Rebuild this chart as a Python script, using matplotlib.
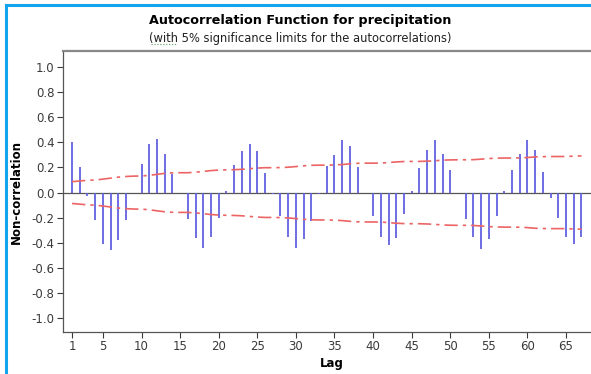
import matplotlib.pyplot as plt
from matplotlib.lines import Line2D

# autocorrelations for lags 1..67
lags = list(range(1, 68))
acf = [0.40, 0.205, -0.03, -0.22, -0.41, -0.46, -0.38, -0.22, 0.0, 0.225,
       0.39, 0.425, 0.31, 0.145, 0.0, -0.21, -0.36, -0.44, -0.35, -0.20,
       0.01, 0.22, 0.33, 0.39, 0.33, 0.155, -0.01, -0.19, -0.35, -0.44,
       -0.37, -0.23, -0.01, 0.21, 0.30, 0.42, 0.37, 0.20, 0.0, -0.19,
       -0.35, -0.42, -0.36, -0.17, 0.01, 0.195, 0.34, 0.42, 0.31, 0.18,
       0.0, -0.21, -0.35, -0.45, -0.37, -0.19, 0.01, 0.18, 0.31, 0.42,
       0.34, 0.16, -0.045, -0.20, -0.35, -0.41, -0.35]

# 5% significance limit for each lag (symmetric around zero)
limite = [0.087, 0.092, 0.098, 0.100, 0.107, 0.115, 0.123, 0.128, 0.131, 0.132,
          0.137, 0.145, 0.153, 0.157, 0.158, 0.158, 0.162, 0.168, 0.175, 0.179,
          0.181, 0.182, 0.185, 0.190, 0.195, 0.198, 0.198, 0.199, 0.202, 0.207,
          0.213, 0.217, 0.218, 0.218, 0.220, 0.223, 0.229, 0.233, 0.234, 0.234,
          0.235, 0.239, 0.244, 0.247, 0.248, 0.248, 0.250, 0.253, 0.258, 0.260,
          0.261, 0.261, 0.262, 0.266, 0.271, 0.274, 0.275, 0.275, 0.276, 0.279,
          0.284, 0.286, 0.287, 0.287, 0.287, 0.290, 0.292]

x_ticks = [1, 5, 10, 15, 20, 25, 30, 35, 40, 45, 50, 55, 60, 65]
y_ticks = [-1.0, -0.8, -0.6, -0.4, -0.2, 0.0, 0.2, 0.4, 0.6, 0.8, 1.0]

fig = plt.figure(figsize=(5.91, 3.74), dpi=100)
ax = fig.add_axes([63 / 591, 42 / 374, 537 / 591, 281 / 374])

ax.axhline(0, color='#555555', lw=0.9, zorder=1)
ax.vlines(lags, 0, acf, color='#6262e2', lw=1.3, zorder=2)
ax.plot(lags, limite, color='#ec6464', lw=1.2, ls=(0, (8, 3, 2, 3)), zorder=3)
ax.plot(lags, [-v for v in limite], color='#ec6464', lw=1.2, ls=(0, (8, 3, 2, 3)), zorder=3)

ax.set_xlim(-0.17, 69.4)
ax.set_ylim(-1.11, 1.127)
ax.set_xticks(x_ticks)
ax.set_yticks(y_ticks)
ax.set_yticklabels([f'{v:.1f}' for v in y_ticks])
ax.tick_params(labelsize=8.5, colors='#3a3a3a', length=4, width=0.8, pad=2)
for s in ['left', 'bottom']:
    ax.spines[s].set_color('#555555')
    ax.spines[s].set_linewidth(0.9)
ax.spines['top'].set_color('#888888')
ax.spines['top'].set_linewidth(1.6)
ax.spines['right'].set_visible(False)

ax.set_xlabel('Lag', fontsize=8.5, fontweight='bold', labelpad=3)
ax.set_ylabel('Non-correlation', fontsize=8.5, fontweight='bold', labelpad=3)
ax.yaxis.set_label_coords(-0.075, 0.5)

fig.text(0.508, 0.946, 'Autocorrelation Function for precipitation',
         ha='center', va='center', fontsize=9.2, fontweight='bold')
fig.text(0.508, 0.898, '(with 5% significance limits for the autocorrelations)',
         ha='center', va='center', fontsize=8.3, color='#222222')
# spell-check squiggle under "with"
fig.add_artist(Line2D([151 / 591, 177 / 591], [1 - 44 / 374, 1 - 44 / 374],
                      color='#5aa05a', lw=0.8, ls=':'))

# blue page border
fig.add_artist(Line2D([6 / 591, 6 / 591], [0, 1 - 5 / 374], color='#12a5ee', lw=2.2))
fig.add_artist(Line2D([6 / 591, 1], [1 - 5 / 374, 1 - 5 / 374], color='#12a5ee', lw=2.2))

fig.savefig('out.png', dpi=100)
